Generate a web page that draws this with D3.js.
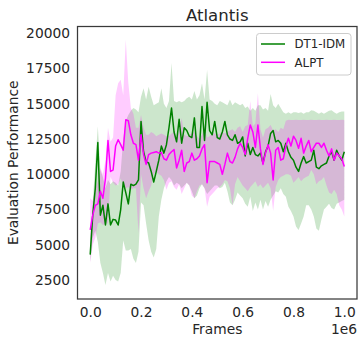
<!DOCTYPE html>
<html><head><meta charset="utf-8">
<script src="https://cdn.jsdelivr.net/npm/d3@7"></script>
<style>
body{margin:0;background:#fff;}
svg{display:block;font-family:"DejaVu Sans",sans-serif;}
</style></head>
<body><svg id="c" width="364" height="345"></svg>
<script>
const frames = d3.range(0, 1000001, 10000);
const seriesNames = ["DT1-IDM", "ALPT"];
const dt1Mean = [4300,7100,9000,12250,7100,7800,6400,7900,6400,6800,6750,6400,7500,9450,8700,7900,9300,9200,9300,9600,
13750,11600,10900,10800,10200,9450,10200,11000,12000,11500,12100,13300,14700,13000,12300,13900,12200,13300,13100,12700,
12600,14000,11900,11900,14800,12400,15100,13100,12800,13750,12600,12500,13000,13750,12800,12500,12400,12800,12200,12300,
12650,11300,12200,11400,11900,11400,11300,11500,10800,11600,12000,12900,13100,12300,12400,12200,11600,12200,11600,11200,
11000,10500,10200,10800,11250,10800,10900,11000,11700,10500,10400,10600,10700,10800,11300,11600,11000,11700,11300,11000,11600];
const dt1Upper = [4900,8000,10800,13400,10300,9800,9000,9600,9300,9500,9400,9200,10200,12500,13800,14200,14500,14700,14600,14400,
15500,16100,15300,16200,15500,14900,15000,15100,16100,15000,14700,15200,17900,15200,15100,15200,15100,15200,15400,15500,
15300,15900,15300,15600,16450,15300,17400,15300,15200,15000,14900,15200,15100,15000,14900,15300,14900,15100,15000,14900,
15000,14700,14800,14500,14700,14500,14900,14900,14600,14700,14500,15700,14900,14700,15000,14700,14400,14300,14400,14300,
14400,14400,14350,14400,14300,14400,14400,14550,14500,14400,14300,14400,14300,14400,14500,14550,14400,14300,14400,14450,14450];
const dt1Lower = [3800,5500,6000,5200,3700,3000,2150,3000,2400,2800,2500,2400,3000,5300,4600,4600,4700,4000,3700,4500,
8000,7800,6500,5300,4500,4100,4700,7000,8200,9000,9500,9800,9600,9200,9400,9300,9000,9200,9400,9200,
8800,8300,8500,9000,9300,9000,8600,8800,9000,9200,9200,9000,9100,9400,8800,8000,7800,8200,8700,8500,
8300,7900,7700,8400,7400,8000,7500,8200,7500,8100,7700,8200,8500,8800,8700,9000,8600,8400,7700,7400,
7000,6300,6050,6500,7000,7800,7800,7500,7000,6150,6000,6800,7500,7700,7900,7600,7500,7900,8000,8100,8200];
const alptMean = [6050,7100,7800,7900,8800,8300,9700,12400,10200,10300,12000,12450,12100,11700,13870,13800,12800,12200,12100,11000,
12800,11400,10700,11400,11500,11550,11600,11500,11550,11100,11000,11400,11600,11750,10450,11000,11700,10200,10800,10900,
11500,11000,11100,11300,11800,12100,9400,10900,10900,10900,10800,10700,10000,10700,11500,10900,10800,11200,11800,12200,
11900,11400,12550,13500,13000,11900,13500,11800,10700,11500,12100,11500,9600,11700,11900,11000,11100,12000,12550,12000,
12700,12400,11850,12550,11500,12000,12400,11600,11900,12200,12200,11900,12200,11700,11300,11800,11000,11500,11300,11100,10550];
const alptUpper = [8300,8100,9000,9500,10450,10000,11000,13300,12300,12600,15600,16450,16700,15600,19550,16500,14700,14300,13300,13300,
14200,13300,12800,12800,13000,12900,12700,12800,12900,12800,12700,12700,12900,13000,12600,13000,14000,12800,12700,12800,
12900,13000,12700,12500,12800,13300,12600,12700,12900,12900,12800,12900,13000,12900,13000,13100,13200,13000,13300,13400,
13000,13400,13500,15200,13400,13600,15750,13200,12600,13200,13300,13500,13100,13200,13000,13300,13200,13800,13860,13850,
13850,13860,13850,13850,13860,13850,13850,13860,13850,13850,13860,13850,13850,13860,13850,13850,13860,13850,13850,13860,13850];
const alptLower = [3700,5000,5500,6500,6600,6400,6500,6500,9800,9400,9200,9300,9700,9200,9000,9100,8900,9000,9000,5800,
10000,9000,8300,8800,9200,10000,10200,10000,9900,9600,8900,9400,9500,9100,8900,9300,8600,9000,9400,9200,
8500,8300,8800,9200,9300,9000,7700,8400,8600,8800,9000,9100,9300,9600,9500,9000,7800,9300,9800,9500,
9200,9000,8800,9100,9300,9500,9100,9300,9000,9200,9400,9000,7400,9100,9600,9800,9900,10000,10000,9900,
9400,9600,9800,9500,9700,9800,9900,10300,10000,9300,9500,9600,9800,9200,8700,8600,8900,8600,7800,7500,7000];
const yTicks = [2500,5000,7500,10000,12500,15000,17500,20000];
const xTicks = [0,200000,400000,600000,800000,1000000];
const xTickLabels = ["0.0","0.2","0.4","0.6","0.8","1.0"];
const colors = ["#008000", "#ff00ff"];

const svg = d3.select("#c");
const L = 77.5, R = 357, T = 26.5, B = 299;
const x = d3.scaleLinear().domain([-50000, 1050000]).range([L, R]);
const y = d3.scaleLinear().domain([1152, 20482]).range([B, T]);
const txt = "#262626";
const fs = "13.8px";

const series = [
  {name: seriesNames[0], mean: dt1Mean, lo: dt1Lower, hi: dt1Upper, color: colors[0]},
  {name: seriesNames[1], mean: alptMean, lo: alptLower, hi: alptUpper, color: colors[1]}
];
const area = d3.area().x((d,i)=>x(frames[i])).y0(d=>y(d[0])).y1(d=>y(d[1]));
const line = d3.line().x((d,i)=>x(frames[i])).y(d=>y(d));
const g = svg.append("g");
series.forEach(s => {
  g.append("path").datum(s.lo.map((v,i)=>[v, s.hi[i]])).attr("d", area)
    .attr("fill", s.color).attr("fill-opacity", 0.2).attr("stroke", "none");
});
series.forEach(s => {
  g.append("path").datum(s.mean).attr("d", line).attr("fill","none")
    .attr("stroke", s.color).attr("stroke-width", 1.5).attr("stroke-linejoin","round");
});

// axes
const ax = svg.append("g").attr("transform", `translate(0,${B})`)
  .call(d3.axisBottom(x).tickValues(xTicks).tickFormat((d,i)=>xTickLabels[i]).tickSize(0).tickPadding(8.5));
const ay = svg.append("g").attr("transform", `translate(${L},0)`)
  .call(d3.axisLeft(y).tickValues(yTicks).tickFormat(d=>String(d)).tickSize(0).tickPadding(7.5));
[ax, ay].forEach(a => {
  a.select(".domain").remove();
  a.selectAll("text").attr("fill", txt).style("font-size",fs).style("font-family","DejaVu Sans");
});
svg.append("rect").attr("x", L).attr("y", T).attr("width", R-L).attr("height", B-T)
  .attr("fill","none").attr("stroke","#3a3a3a").attr("stroke-width",1.25);

svg.append("text").attr("x", (L+R)/2).attr("y", 20.5).attr("text-anchor","middle")
  .attr("fill", txt).style("font-size","16.6px").text("Atlantis");
svg.append("text").attr("x", (L+R)/2).attr("y", 334).attr("text-anchor","middle")
  .attr("fill", txt).style("font-size",fs).text("Frames");
svg.append("text").attr("x", R).attr("y", 334).attr("text-anchor","end")
  .attr("fill", txt).style("font-size",fs).text("1e6");
svg.append("text").attr("transform", `translate(18,${(T+B)/2}) rotate(-90)`).attr("text-anchor","middle")
  .attr("fill", txt).style("font-size",fs).text("Evaluation Performance");

// legend
const lg = svg.append("g");
lg.append("rect").attr("x", 256.5).attr("y", 33.5).attr("width", 94.5).attr("height", 41.5).attr("rx", 3)
  .attr("fill","#fff").attr("fill-opacity",0.8).attr("stroke","#cccccc").attr("stroke-width",1);
series.forEach((s,i) => {
  const yy = 44 + i*18.3;
  lg.append("line").attr("x1", 261).attr("x2", 285).attr("y1", yy).attr("y2", yy)
    .attr("stroke", s.color).attr("stroke-width", 1.5);
  lg.append("text").attr("x", 294.5).attr("y", yy+4.2).attr("fill", txt)
    .style("font-size","11.8px").text(s.name);
});
</script></body></html>
